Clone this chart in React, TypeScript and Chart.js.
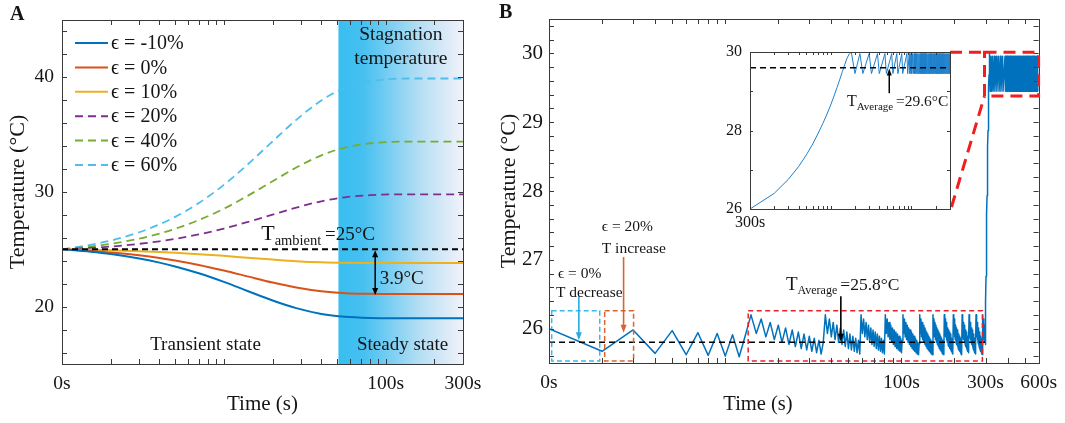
import React, { useEffect, useRef } from "react";
import { Chart, registerables } from "chart.js";
Chart.register(...registerables);

const FONT = "'Liberation Serif', 'Times New Roman', 'DejaVu Serif', serif";
Chart.defaults.font.family = FONT;

// ================= Panel A data =================
const timesA = [1, 1.5, 2, 3, 4, 5, 7, 10, 14, 20, 28, 40, 56, 80, 110, 160, 220, 300];
const tempEpsM10 = [25.0, 24.79, 24.59, 24.2, 23.84, 23.51, 22.91, 22.16, 21.37, 20.54, 19.87, 19.37, 19.12, 19.02, 19.0, 19.0, 19.0, 19.0];
const tempEps0 = [25.0, 24.86, 24.73, 24.48, 24.25, 24.03, 23.64, 23.15, 22.64, 22.1, 21.67, 21.34, 21.18, 21.12, 21.1, 21.1, 21.1, 21.1];
const tempEps10 = [25.0, 24.96, 24.92, 24.84, 24.77, 24.7, 24.58, 24.43, 24.27, 24.11, 23.97, 23.87, 23.82, 23.8, 23.8, 23.8, 23.8, 23.8];
const tempEps20 = [25.0, 25.12, 25.24, 25.48, 25.7, 25.91, 26.3, 26.81, 27.38, 28.03, 28.64, 29.19, 29.54, 29.72, 29.79, 29.8, 29.8, 29.8];
const tempEps40 = [25.0, 25.24, 25.48, 25.94, 26.37, 26.79, 27.55, 28.54, 29.66, 30.94, 32.13, 33.2, 33.88, 34.25, 34.37, 34.4, 34.4, 34.4];
const tempEps60 = [25.0, 25.39, 25.76, 26.49, 27.18, 27.83, 29.04, 30.62, 32.39, 34.42, 36.29, 37.99, 39.08, 39.66, 39.86, 39.9, 39.9, 39.9];
const legendLabelsA = ["ϵ = -10%", "ϵ = 0%", "ϵ = 10%", "ϵ = 20%", "ϵ = 40%", "ϵ = 60%"];
const ambientTempA = 25;
const steadyStartA = 51;
const dropLowA = 21.1;
const xTicksA = [1, 2, 3, 4, 5, 6, 7, 8, 9, 10, 20, 30, 40, 50, 60, 70, 80, 90, 100, 200, 300];
const xLabelValsA = [1, 100, 300];
const xLabelTextsA = ["0s", "100s", "300s"];
const yTicksA = [16, 18, 20, 22, 24, 26, 28, 30, 32, 34, 36, 38, 40, 42, 44];
const yLabelValsA = [20, 30, 40];

// ================= Panel B data =================
const introTimesB = [1, 2, 3, 4, 5, 6, 7, 8, 9, 10, 11, 12, 13];
const introTempsB = [26.0, 25.67, 25.98, 25.64, 25.97, 25.62, 25.94, 25.61, 25.93, 25.6, 25.91, 25.59, 25.9];
const burstStartsB = [14, 37, 59, 81, 102, 127, 151, 175, 197, 221, 242, 265, 290];
const burstProfileB = [26.2, 25.93, 26.14, 25.88, 26.09, 25.84, 26.05, 25.8, 26.01, 25.77, 25.98, 25.74, 25.95, 25.71, 25.92, 25.69, 25.89, 25.67, 25.86, 25.65, 25.83, 25.63, 25.8, 25.62, 25.78];
const heatStartB = 300;
const heatTempsB = [26.0, 26.4, 26.76, 27.08, 27.38, 27.66, 27.93, 28.18, 28.42, 28.65, 28.88, 29.1, 29.31, 29.51, 29.69, 29.85, 29.95, 30.0];
const holdPeakTimesB = [
  322, 329, 337, 346, 356, 365, 375, 387, 393, 398, 403, 407, 411, 415, 419, 423, 427, 431, 435, 439, 443, 447, 451,
  455, 459, 463, 467, 471, 475, 479, 483, 487, 491, 495, 499, 503, 507, 511, 515, 519, 523, 527, 531, 535, 539, 543,
  547, 551, 555, 559, 563, 567, 571, 575, 579, 583, 587, 591, 595,
];
const holdPeakT = 29.96;
const holdLowT = 29.45;
const holdCoolSeconds = 2;
const avgLowB = 25.8;
const avgHighB = 29.6;
const xTicksB = [1, 2, 3, 4, 5, 6, 7, 8, 9, 10, 20, 30, 40, 50, 60, 70, 80, 90, 100, 200, 300, 400, 500, 600];
const xLabelValsB = [1, 100, 300, 600];
const xLabelTextsB = ["0s", "100s", "300s", "600s"];
const yTicksB = [25.6, 25.8, 26, 26.2, 26.4, 26.6, 26.8, 27, 27.2, 27.4, 27.6, 27.8, 28, 28.2, 28.4, 28.6, 28.8, 29, 29.2, 29.4, 29.6, 29.8, 30, 30.2, 30.4];
const yLabelValsB = [26, 27, 28, 29, 30];
// inset (x = seconds after 299 s)
const insetOffset = 299;
const xTicksI = [1, 2, 3, 4, 5, 6, 7, 8, 9, 10, 20, 30, 40, 50, 60, 70, 80, 90, 100, 200, 300];
const xLabelValsI = [1, 101, 301];
const xLabelTextsI = ["300s", "400s", "600s"];
const yTicksI = [26, 27, 28, 29, 30];
const yLabelValsI = [26, 28, 30];

// ================= layout constants (page px) =================
const B_LEFT = 490;
const INSET_BOX = { left: 700, top: 30, width: 270, height: 210 };
const INSET_AREA = { left: 750, top: 52, right: 950, bottom: 209 };

const COLORS_A = ["#0072BD", "#D95319", "#EDB120", "#7E2F8E", "#77AC30", "#4DBEEE"];
const FRAME = "#3a3a3a";
const TXT = "#151515";

function labelFor(v: number, vals: number[], texts: string[]) {
  const i = vals.findIndex((u) => Math.abs(u - v) < 1e-6);
  return i >= 0 ? texts[i] : "";
}

function buildSeriesB() {
  const pts: { x: number; y: number }[] = [];
  introTimesB.forEach((t, i) => pts.push({ x: t, y: introTempsB[i] }));
  burstStartsB.forEach((s, k) => {
    const end = k + 1 < burstStartsB.length ? burstStartsB[k + 1] : heatStartB;
    for (let d = 0; d < burstProfileB.length && s + d < end; d++) pts.push({ x: s + d, y: burstProfileB[d] });
  });
  heatTempsB.forEach((T, i) => pts.push({ x: heatStartB + i, y: T }));
  const heatEnd = heatStartB + heatTempsB.length - 1;
  pts.push({ x: heatEnd + holdCoolSeconds, y: holdLowT });
  holdPeakTimesB.forEach((p) => {
    pts.push({ x: p, y: holdPeakT });
    pts.push({ x: p + holdCoolSeconds, y: holdLowT });
  });
  return pts;
}

function text(ctx: any, s: string, x: number, y: number, size: number, o: any = {}) {
  ctx.save();
  ctx.font = `${o.bold ? "bold " : ""}${size}px ${FONT}`;
  ctx.fillStyle = o.color || TXT;
  ctx.textAlign = o.align || "left";
  ctx.textBaseline = o.baseline || "middle";
  ctx.fillText(s, x, y);
  ctx.restore();
}

function subText(ctx: any, x: number, yBase: number, main: string, sub: string, rest: string, sM: number, sS: number, sR: number) {
  ctx.save();
  ctx.fillStyle = TXT;
  ctx.textAlign = "left";
  ctx.textBaseline = "alphabetic";
  ctx.font = `${sM}px ${FONT}`;
  ctx.fillText(main, x, yBase);
  let cx = x + ctx.measureText(main).width;
  ctx.font = `${sS}px ${FONT}`;
  ctx.fillText(sub, cx, yBase + sS * 0.35);
  cx += ctx.measureText(sub).width + sS * 0.25;
  ctx.font = `${sR}px ${FONT}`;
  ctx.fillText(rest, cx, yBase);
  ctx.restore();
}

function head(ctx: any, x: number, y: number, ang: number, len: number, w: number) {
  ctx.beginPath();
  ctx.moveTo(x, y);
  ctx.lineTo(x - Math.cos(ang) * len + Math.sin(ang) * w / 2, y - Math.sin(ang) * len - Math.cos(ang) * w / 2);
  ctx.lineTo(x - Math.cos(ang) * len - Math.sin(ang) * w / 2, y - Math.sin(ang) * len + Math.cos(ang) * w / 2);
  ctx.closePath();
  ctx.fill();
}

function arrow(ctx: any, x1: number, y1: number, x2: number, y2: number, color: string, lw: number, len: number, w: number, both = false) {
  ctx.save();
  ctx.strokeStyle = color;
  ctx.fillStyle = color;
  ctx.lineWidth = lw;
  const ang = Math.atan2(y2 - y1, x2 - x1);
  ctx.beginPath();
  ctx.moveTo(x1 + (both ? Math.cos(ang) * len * 0.7 : 0), y1 + (both ? Math.sin(ang) * len * 0.7 : 0));
  ctx.lineTo(x2 - Math.cos(ang) * len * 0.7, y2 - Math.sin(ang) * len * 0.7);
  ctx.stroke();
  head(ctx, x2, y2, ang, len, w);
  if (both) head(ctx, x1, y1, ang + Math.PI, len, w);
  ctx.restore();
}

function dashedRect(ctx: any, x1: number, y1: number, x2: number, y2: number, color: string, lw: number, dash: number[]) {
  ctx.save();
  ctx.strokeStyle = color;
  ctx.lineWidth = lw;
  ctx.setLineDash(dash);
  ctx.strokeRect(Math.min(x1, x2), Math.min(y1, y2), Math.abs(x2 - x1), Math.abs(y2 - y1));
  ctx.restore();
}

function hDash(ctx: any, x1: number, x2: number, y: number, color: string, lw: number, dash: number[]) {
  ctx.save();
  ctx.strokeStyle = color;
  ctx.lineWidth = lw;
  ctx.setLineDash(dash);
  ctx.beginPath();
  ctx.moveTo(x1, y);
  ctx.lineTo(x2, y);
  ctx.stroke();
  ctx.restore();
}

function frame(chart: any, xt: number[], yt: number[], len: number) {
  const { ctx, chartArea: a, scales } = chart;
  ctx.save();
  ctx.strokeStyle = FRAME;
  ctx.lineWidth = 1;
  ctx.beginPath();
  xt.forEach((v) => {
    const p = Math.round(scales.x.getPixelForValue(v)) + 0.5;
    if (p <= a.left + 1 || p >= a.right - 1) return;
    ctx.moveTo(p, a.bottom);
    ctx.lineTo(p, a.bottom - len);
    ctx.moveTo(p, a.top);
    ctx.lineTo(p, a.top + len);
  });
  yt.forEach((v) => {
    const p = Math.round(scales.y.getPixelForValue(v)) + 0.5;
    if (p <= a.top + 1 || p >= a.bottom - 1) return;
    ctx.moveTo(a.left, p);
    ctx.lineTo(a.left + len, p);
    ctx.moveTo(a.right, p);
    ctx.lineTo(a.right - len, p);
  });
  ctx.stroke();
  ctx.strokeRect(Math.round(a.left) + 0.5, Math.round(a.top) + 0.5, Math.round(a.right - a.left), Math.round(a.bottom - a.top));
  ctx.restore();
}

function baseOptions(padding: any) {
  return {
    responsive: false,
    maintainAspectRatio: false,
    animation: false,
    events: [],
    layout: { padding },
    elements: { line: { borderJoinStyle: "round" }, point: { radius: 0 } },
    plugins: { legend: { display: false }, tooltip: { enabled: false }, title: { display: false } },
  } as any;
}

function axis(type: string, min: number, max: number, ticks: number[], lv: number[], lt: string[], size: number, pad: number, fit: (s: any) => void, title?: any) {
  return {
    type,
    min,
    max,
    afterBuildTicks: (s: any) => {
      s.ticks = ticks.map((v) => ({ value: v }));
    },
    afterFit: fit,
    grid: { display: false, drawTicks: false },
    border: { display: false },
    ticks: {
      autoSkip: false,
      maxRotation: 0,
      minRotation: 0,
      padding: pad,
      color: TXT,
      font: { size, family: FONT },
      callback: (v: any) => labelFor(Number(v), lv, lt),
    },
    title: title || { display: false },
  };
}

function createA(canvas: HTMLCanvasElement) {
  const vals = [tempEpsM10, tempEps0, tempEps10, tempEps20, tempEps40, tempEps60];
  const datasets = vals.map((v, i) => ({
    label: legendLabelsA[i],
    data: timesA.map((t, j) => ({ x: t, y: v[j] })),
    borderColor: COLORS_A[i],
    borderWidth: i < 3 ? 2 : 1.8,
    borderDash: i < 3 ? [] : [8, 5],
    pointRadius: 0,
    cubicInterpolationMode: "monotone",
    fill: false,
  }));
  const plugin = {
    id: "panelA",
    beforeDatasetsDraw(chart: any) {
      const { ctx, chartArea: a, scales } = chart;
      const x0 = scales.x.getPixelForValue(steadyStartA);
      const g = ctx.createLinearGradient(x0, 0, a.right, 0);
      g.addColorStop(0, "rgb(56,190,240)");
      g.addColorStop(0.2, "rgb(70,192,240)");
      g.addColorStop(0.65, "rgb(180,222,244)");
      g.addColorStop(1, "rgb(242,242,250)");
      ctx.save();
      ctx.fillStyle = g;
      ctx.fillRect(x0, a.top, a.right - x0, a.bottom - a.top);
      ctx.restore();
    },
    afterDatasetsDraw(chart: any) {
      const { ctx, chartArea: a, scales } = chart;
      const { x, y } = scales;
      hDash(ctx, a.left, a.right, y.getPixelForValue(ambientTempA), "#000", 2, [6, 4]);
      frame(chart, xTicksA, yTicksA, 5);
      const ax = x.getPixelForValue(86);
      arrow(ctx, ax, y.getPixelForValue(ambientTempA) + 1, ax, y.getPixelForValue(dropLowA) + 1, "#000", 1.5, 7, 6, true);
    },
    afterDraw(chart: any) {
      const { ctx, chartArea: a, scales } = chart;
      const { x, y } = scales;
      subText(ctx, x.getPixelForValue(17), y.getPixelForValue(25.81), "T", "ambient", "=25°C", 22, 14.5, 19);
      text(ctx, "3.9°C", x.getPixelForValue(91.8), y.getPixelForValue(22.41), 19);
      text(ctx, "Transient state", x.getPixelForValue(7.7), y.getPixelForValue(16.66), 19, { align: "center" });
      text(ctx, "Steady state", x.getPixelForValue(127), y.getPixelForValue(16.66), 19, { align: "center" });
      text(ctx, "Stagnation", x.getPixelForValue(124), y.getPixelForValue(43.68), 19.5, { align: "center" });
      text(ctx, "temperature", x.getPixelForValue(124), y.getPixelForValue(41.6), 19.5, { align: "center" });
      // legend
      legendLabelsA.forEach((lab, i) => {
        const ly = a.top + 23 + i * 24.4;
        ctx.save();
        ctx.strokeStyle = COLORS_A[i];
        ctx.lineWidth = 2;
        ctx.setLineDash(i < 3 ? [] : [8, 5]);
        ctx.beginPath();
        ctx.moveTo(a.left + 13, ly);
        ctx.lineTo(a.left + 46, ly);
        ctx.stroke();
        ctx.restore();
        text(ctx, lab, a.left + 49, ly + 1, 20);
      });
      text(ctx, "A", 10, 20, 20, { bold: true, baseline: "alphabetic" });
    },
  };
  return new Chart(canvas, {
    type: "line",
    data: { datasets } as any,
    options: {
      ...baseOptions({ top: 20, right: 27, bottom: 0, left: 0 }),
      scales: {
        x: axis("logarithmic", 1, 300, xTicksA, xLabelValsA, xLabelTextsA, 19.5, 8, (s: any) => { s.height = 59; }, {
          display: true, text: "Time (s)", color: TXT, font: { size: 21, family: FONT }, padding: { top: 0, bottom: 6 },
        }),
        y: axis("linear", 15, 45, yTicksA, yLabelValsA, yLabelValsA.map(String), 19.5, 8, (s: any) => { s.width = 62; }, {
          display: true, text: "Temperature (°C)", color: TXT, font: { size: 22, family: FONT }, padding: { top: 5, bottom: 0 },
        }),
      },
    } as any,
    plugins: [plugin],
  });
}

function createB(canvas: HTMLCanvasElement, pts: any[]) {
  const plugin = {
    id: "panelB",
    afterDatasetsDraw(chart: any) {
      const { ctx, scales } = chart;
      const { x, y } = scales;
      hDash(ctx, x.getPixelForValue(1), x.getPixelForValue(300), y.getPixelForValue(avgLowB), "#000", 1.5, [6, 4]);
      dashedRect(ctx, x.getPixelForValue(1.036), y.getPixelForValue(26.26), x.getPixelForValue(1.94), y.getPixelForValue(25.53), "#3DB8EC", 1.5, [5, 3]);
      dashedRect(ctx, x.getPixelForValue(2.07), y.getPixelForValue(26.26), x.getPixelForValue(3.02), y.getPixelForValue(25.53), "#D9642F", 1.5, [5, 3]);
      dashedRect(ctx, x.getPixelForValue(13.5), y.getPixelForValue(26.26), x.getPixelForValue(288), y.getPixelForValue(25.53), "#E8202A", 1.5, [5, 3.5]);
      frame(chart, xTicksB, yTicksB, 5);
      const bx = x.getPixelForValue(296);
      const by1 = y.getPixelForValue(30.016);
      const by2 = y.getPixelForValue(29.38);
      dashedRect(ctx, bx, by1, x.getPixelForValue(600), by2, "#F01E1E", 3, [12, 7]);
      ctx.save();
      ctx.strokeStyle = "#F01E1E";
      ctx.lineWidth = 3;
      ctx.setLineDash([12, 7]);
      ctx.beginPath();
      ctx.moveTo(INSET_AREA.right - B_LEFT, by1);
      ctx.lineTo(bx, by1);
      ctx.moveTo(INSET_AREA.right - B_LEFT + 1.5, INSET_AREA.bottom - 2);
      ctx.lineTo(bx, by2);
      ctx.stroke();
      ctx.restore();
      const cx = x.getPixelForValue(1.477);
      arrow(ctx, cx, y.getPixelForValue(26.47), cx, y.getPixelForValue(25.83), "#2AAAE2", 1.6, 8, 6);
      const ox = x.getPixelForValue(2.65);
      arrow(ctx, ox, y.getPixelForValue(27.04), ox, y.getPixelForValue(25.94), "#D9642F", 1.6, 8, 6);
      const kx = x.getPixelForValue(45.3);
      arrow(ctx, kx, y.getPixelForValue(26.47), kx, y.getPixelForValue(25.81), "#000", 1.6, 8, 6);
    },
    afterDraw(chart: any) {
      const { ctx, scales } = chart;
      const { x, y } = scales;
      text(ctx, "ϵ = 0%", x.getPixelForValue(1.124), y.getPixelForValue(26.79), 15.5);
      text(ctx, "T decrease", x.getPixelForValue(1.095), y.getPixelForValue(26.52), 15.5);
      text(ctx, "ϵ = 20%", x.getPixelForValue(1.992), y.getPixelForValue(27.48), 15.5);
      text(ctx, "T increase", x.getPixelForValue(1.992), y.getPixelForValue(27.16), 15.5);
      subText(ctx, x.getPixelForValue(22.1), y.getPixelForValue(26.56), "T", "Average", "=25.8°C", 19, 12, 17.5);
      text(ctx, "Time (s)", 758 - B_LEFT, 405, 20.5, { align: "center" });
      text(ctx, "B", 9, 18, 20, { bold: true, baseline: "alphabetic" });
    },
  };
  return new Chart(canvas, {
    type: "line",
    data: {
      datasets: [{ data: pts, borderColor: "#0072BD", borderWidth: 1.5, pointRadius: 0, tension: 0, fill: false }],
    } as any,
    options: {
      ...baseOptions({ top: 19, right: 25, bottom: 0, left: 0 }),
      scales: {
        x: axis("logarithmic", 1, 600, xTicksB, xLabelValsB, xLabelTextsB, 19.5, 8, (s: any) => { s.height = 60; }),
        y: axis("linear", 25.5, 30.5, yTicksB, yLabelValsB, yLabelValsB.map(String), 21, 6, (s: any) => { s.width = 59; }, {
          display: true, text: "Temperature (°C)", color: TXT, font: { size: 22, family: FONT }, padding: { top: 6, bottom: 0 },
        }),
      },
    } as any,
    plugins: [plugin],
  });
}

function createInset(canvas: HTMLCanvasElement, pts: any[]) {
  const data = pts.filter((p) => p.x >= heatStartB).map((p) => ({ x: p.x - insetOffset, y: p.y }));
  const plugin = {
    id: "inset",
    afterDatasetsDraw(chart: any) {
      const { ctx, chartArea: a, scales } = chart;
      const { x, y } = scales;
      hDash(ctx, a.left, a.right, y.getPixelForValue(avgHighB), "#000", 1.5, [6, 4]);
      frame(chart, xTicksI, yTicksI, 3);
      const ax = x.getPixelForValue(53.2);
      arrow(ctx, ax, y.getPixelForValue(28.95), ax, y.getPixelForValue(29.58), "#000", 1.5, 7, 5);
    },
    afterDraw(chart: any) {
      const { ctx, scales } = chart;
      subText(ctx, scales.x.getPixelForValue(15.9), scales.y.getPixelForValue(28.62), "T", "Average", "=29.6°C", 16, 11, 15.5);
    },
  };
  return new Chart(canvas, {
    type: "line",
    data: { datasets: [{ data, borderColor: "#1F80CC", borderWidth: 1, pointRadius: 0, tension: 0, fill: false }] } as any,
    options: {
      ...baseOptions({
        top: INSET_AREA.top - INSET_BOX.top,
        right: INSET_BOX.left + INSET_BOX.width - INSET_AREA.right,
        bottom: 0,
        left: 0,
      }),
      scales: {
        x: axis("logarithmic", 1, 301, xTicksI, xLabelValsI, xLabelTextsI, 16, 4, (s: any) => { s.height = INSET_BOX.top + INSET_BOX.height - INSET_AREA.bottom; }),
        y: axis("linear", 26, 30, yTicksI, yLabelValsI, yLabelValsI.map(String), 16, 8, (s: any) => { s.width = INSET_AREA.left - INSET_BOX.left; }),
      },
    } as any,
    plugins: [plugin],
  });
}

export default function App() {
  const refA = useRef<HTMLCanvasElement>(null);
  const refB = useRef<HTMLCanvasElement>(null);
  const refI = useRef<HTMLCanvasElement>(null);
  useEffect(() => {
    const pts = buildSeriesB();
    const charts = [createA(refA.current!), createB(refB.current!, pts), createInset(refI.current!, pts)];
    return () => charts.forEach((c) => c.destroy());
  }, []);
  return (
    <div style={{ position: "fixed", left: 0, top: 0, width: 1065, height: 423, background: "#fff", overflow: "hidden" }}>
      <canvas ref={refA} width={490} height={423} style={{ position: "absolute", left: 0, top: 0 }} />
      <canvas ref={refB} width={575} height={423} style={{ position: "absolute", left: B_LEFT, top: 0 }} />
      <canvas
        ref={refI}
        width={INSET_BOX.width}
        height={INSET_BOX.height}
        style={{ position: "absolute", left: INSET_BOX.left, top: INSET_BOX.top }}
      />
    </div>
  );
}
